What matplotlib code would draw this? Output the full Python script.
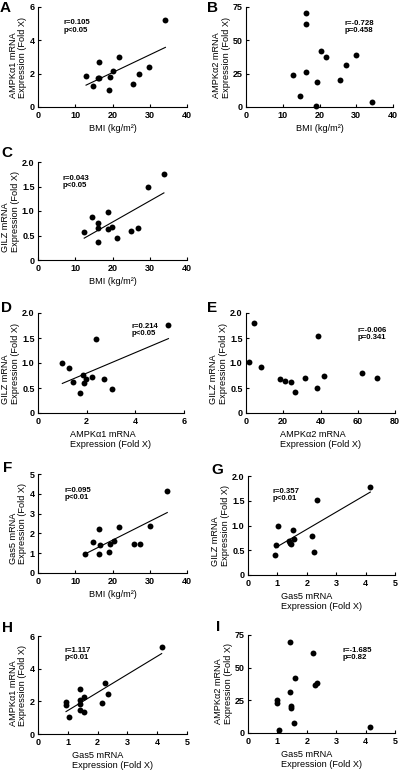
import numpy as np
import matplotlib
matplotlib.use("Agg")
import matplotlib.pyplot as plt

plt.rcParams['font.family'] = ['Liberation Sans', 'DejaVu Sans']
plt.rcParams['font.weight'] = 'bold'
plt.rcParams['font.size'] = 6.5

# BMI (shared x for A, B, C, F)
bmi_a = [12.9, 14.8, 16.1, 16.5, 16.5, 19.2, 19.0, 20.2, 21.7, 25.4, 27.0, 29.8, 34.2]
ampk1_a = [1.84, 1.26, 1.76, 2.70, 1.72, 1.78, 1.02, 2.18, 3.00, 1.40, 2.00, 2.38, 5.24]

bmi_b = [12.8, 14.8, 16.2, 16.4, 16.4, 19.0, 19.3, 20.3, 21.8, 25.7, 27.3, 30.0, 34.4]
ampk2_b = [23.9, 8.3, 62.2, 70.5, 25.9, 1.0, 18.4, 42.3, 37.5, 20.1, 31.5, 39.0, 4.0]

bmi_c = [12.4, 14.5, 16.0, 16.1, 16.0, 18.7, 18.9, 19.9, 21.2, 25.1, 26.8, 29.4, 33.8]
gilz_c = [0.58, 0.87, 0.75, 0.66, 0.36, 0.97, 0.63, 0.68, 0.45, 0.60, 0.65, 1.48, 1.76]

ampk1_d = [1.00, 1.28, 1.43, 1.72, 1.86, 1.88, 1.98, 2.21, 2.40, 2.71, 3.03, 5.36]
gilz_d = [1.01, 0.90, 0.63, 0.40, 0.76, 0.61, 0.68, 0.72, 1.49, 0.69, 0.49, 1.77]

ampk2_e = [1.4, 4.3, 8.2, 18.0, 20.9, 23.9, 26.3, 31.8, 37.9, 38.8, 42.1, 62.1, 70.2]
gilz_e = [1.02, 1.81, 0.93, 0.69, 0.65, 0.63, 0.43, 0.71, 0.51, 1.55, 0.75, 0.81, 0.71]

bmi_f = [12.7, 14.8, 16.4, 16.4, 16.6, 19.1, 19.4, 20.4, 21.7, 25.7, 27.3, 30.2, 34.7]
gas5_f = [0.97, 1.56, 2.21, 0.97, 1.43, 1.06, 1.44, 1.63, 2.30, 1.48, 1.44, 2.38, 4.16]

gas5_g = [0.94, 0.93, 1.02, 1.39, 1.43, 1.46, 1.53, 1.58, 2.17, 2.26, 2.34, 4.16]
gilz_g = [0.60, 0.40, 0.99, 0.69, 0.64, 0.62, 0.90, 0.72, 0.78, 0.47, 1.51, 1.78]

gas5_h = [0.94, 0.95, 1.04, 1.40, 1.41, 1.41, 1.42, 1.53, 1.55, 2.16, 2.25, 2.34, 4.15]
ampk1_h = [1.93, 1.76, 1.05, 2.78, 2.07, 1.83, 1.48, 1.32, 2.25, 1.87, 3.10, 2.47, 5.35]

gas5_i = [0.97, 0.97, 1.06, 1.43, 1.44, 1.45, 1.47, 1.56, 1.60, 2.22, 2.29, 2.36, 4.16]
ampk2_i = [25.3, 23.3, 2.3, 69.7, 31.1, 18.8, 20.8, 8.0, 42.1, 61.4, 37.1, 38.4, 4.3]

bmi_lab = "BMI (kg/m²)"
a1_lab = "AMPKα1 mRNA\nExpression (Fold X)"
a2_lab = "AMPKα2 mRNA\nExpression (Fold X)"
gilz_lab = "GILZ mRNA\nExpression (Fold X)"
gas5_lab = "Gas5 mRNA\nExpression (Fold X)"

half_ticks = [0, 0.5, 1.0, 1.5, 2.0]
half_labels = ["0", "0.5", "1.0", "1.5", "2.0"]

# letter, x, y, xlabel, ylabel, xticks, yticks, yticklabels, fit line, stats text,
# text pos (data), axes box (l, r, top, bottom px), letter pos (px)
panels = [
    ("A", bmi_a, ampk1_a, bmi_lab, a1_lab, [0, 10, 20, 30, 40], [0, 2, 4, 6], None, True,
     "r=0.105\np<0.05", (6.9, 5.25), (38, 187, 7, 107), (0, 3)),
    ("B", bmi_b, ampk2_b, bmi_lab, a2_lab, [0, 10, 20, 30, 40], [0, 25, 50, 75], None, False,
     "r=-0.728\np=0.458", (26.9, 65), (246, 393, 7, 107), (207, 3)),
    ("C", bmi_c, gilz_c, bmi_lab, gilz_lab, [0, 10, 20, 30, 40], half_ticks, half_labels, True,
     "r=0.043\np<0.05", (6.7, 1.73), (38, 187, 162, 260), (1, 148)),
    ("D", ampk1_d, gilz_d, a1_lab, gilz_lab, [0, 2, 4, 6], half_ticks, half_labels, True,
     "r=0.214\np<0.05", (3.85, 1.8), (38, 184, 313, 413), (1, 303)),
    ("E", ampk2_e, gilz_e, a2_lab, gilz_lab, [0, 20, 40, 60, 80], half_ticks, half_labels, False,
     "r=-0.006\np=0.341", (59.8, 1.72), (246, 395, 313, 413), (207, 303)),
    ("F", bmi_f, gas5_f, bmi_lab, gas5_lab, [0, 10, 20, 30, 40], [0, 1, 2, 3, 4, 5], None, True,
     "r=0.095\np<0.01", (7.1, 4.33), (38, 187, 474, 573), (3, 463)),
    ("G", gas5_g, gilz_g, gas5_lab, gilz_lab, [0, 1, 2, 3, 4, 5], half_ticks, half_labels, True,
     "r=0.357\np<0.01", (0.85, 1.76), (248, 395, 476, 575), (211, 465)),
    ("H", gas5_h, ampk1_h, gas5_lab, a1_lab, [0, 1, 2, 3, 4, 5], [0, 2, 4, 6], None, True,
     "r=1.117\np<0.01", (0.88, 5.3), (38, 187, 636, 734), (2, 623)),
    ("I", gas5_i, ampk2_i, gas5_lab, a2_lab, [0, 1, 2, 3, 4, 5], [0, 25, 50, 75], None, False,
     "r=-1.685\np=0.82", (3.21, 66), (248, 395, 635, 733), (216, 622)),
]

W, H = 400, 770
fig = plt.figure(figsize=(W / 100, H / 100), dpi=100)

for (let, x, y, xl, yl, xt, yt, ytl, fit, txt, tpos, box, lpos) in panels:
    l, r, t, b = box
    ax = fig.add_axes([l / W, 1 - b / H, (r - l) / W, (b - t) / H])
    ax.scatter(x, y, s=18, color='black', zorder=3, clip_on=False, linewidths=0)
    if fit:
        k, c = np.polyfit(x, y, 1)
        xs = np.array([min(x), max(x)])
        ax.plot(xs, k * xs + c, color='black', lw=0.8)
    ax.set_xlim(xt[0], xt[-1])
    ax.set_ylim(yt[0], yt[-1])
    ax.set_xticks(xt)
    ax.set_yticks(yt)
    if ytl:
        ax.set_yticklabels(ytl)
    for s in ['top', 'right']:
        ax.spines[s].set_visible(False)
    for s in ['left', 'bottom']:
        ax.spines[s].set_linewidth(0.8)
    ax.tick_params(direction='in', length=2.5, width=0.8, labelsize=6.5)
    ax.tick_params(axis='x', pad=3)
    ax.tick_params(axis='y', pad=2.5)
    ax.set_xlabel(xl, fontsize=6.6, labelpad=3, multialignment='left', linespacing=1.05)
    ax.set_ylabel(yl, fontsize=6.6, labelpad=1.5, multialignment='left', linespacing=1.1)
    ax.text(tpos[0], tpos[1], txt, fontsize=5.6, va='top', ha='left', linespacing=1.0)
    fig.text(lpos[0] / W, 1 - (lpos[1] - 2) / H, let, fontsize=11, fontweight='bold',
             va='top', ha='left')

fig.savefig("out.png", dpi=100)
